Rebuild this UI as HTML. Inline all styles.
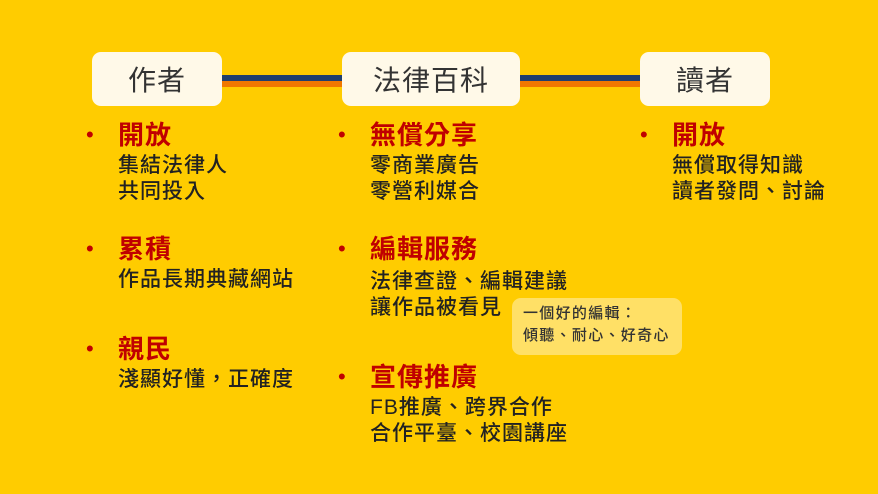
<!DOCTYPE html>
<html><head><meta charset="utf-8"><style>
body{margin:0;width:878px;height:494px;background:#FFCC00;position:relative;overflow:hidden;font-family:"Liberation Sans","Noto Sans CJK TC",sans-serif}
.box{position:absolute;top:52px;height:54px;background:#FFF9E8;border-radius:9px;font-size:28px;letter-spacing:1px;color:#333;display:flex;align-items:center;justify-content:center}
.ln{position:absolute;height:6px}
.t{position:absolute;white-space:nowrap}
.h{font-size:26px;letter-spacing:1px;font-weight:bold;color:#C00000;line-height:30px}
.b{font-size:21px;letter-spacing:1px;color:#222;line-height:26px;font-weight:500}
.d{position:absolute;font-size:22px;color:#C00000;line-height:30px}
</style></head><body>
<div class="ln" style="left:222px;width:120px;top:75px;background:#1F3F6E"></div>
<div class="ln" style="left:222px;width:120px;top:81px;background:#F07800"></div>
<div class="ln" style="left:520px;width:120px;top:75px;background:#1F3F6E"></div>
<div class="ln" style="left:520px;width:120px;top:81px;background:#F07800"></div>
<div class="box" style="left:92px;width:130px">作者</div>
<div class="box" style="left:342px;width:178px">法律百科</div>
<div class="box" style="left:640px;width:130px">讀者</div>

<div class="d" style="left:86px;top:120px">•</div>
<div class="t h" style="left:118px;top:120px">開放</div>
<div class="t b" style="left:118px;top:153px">集結法律人<br>共同投入</div>
<div class="d" style="left:86px;top:234px">•</div>
<div class="t h" style="left:118px;top:234px">累積</div>
<div class="t b" style="left:118px;top:267px">作品長期典藏網站</div>
<div class="d" style="left:86px;top:334px">•</div>
<div class="t h" style="left:118px;top:334px">親民</div>
<div class="t b" style="left:118px;top:367px">淺顯好懂，正確度</div>

<div class="d" style="left:338px;top:120px">•</div>
<div class="t h" style="left:370px;top:120px">無償分享</div>
<div class="t b" style="left:370px;top:153px">零商業廣告<br>零營利媒合</div>
<div class="d" style="left:338px;top:234px">•</div>
<div class="t h" style="left:370px;top:234px">編輯服務</div>
<div class="t b" style="left:370px;top:269px">法律查證、編輯建議<br>讓作品被看見</div>
<div class="d" style="left:338px;top:362px">•</div>
<div class="t h" style="left:370px;top:362px">宣傳推廣</div>
<div class="t b" style="left:370px;top:395px">FB推廣、跨界合作<br>合作平臺、校園講座</div>

<div class="d" style="left:640px;top:120px">•</div>
<div class="t h" style="left:672px;top:120px">開放</div>
<div class="t b" style="left:672px;top:153px">無償取得知識<br>讀者發問、討論</div>

<div style="position:absolute;left:512px;top:298px;width:170px;height:57px;background:#FFE066;border-radius:9px"></div>
<div class="t" style="left:523px;top:303px;font-size:15px;letter-spacing:1.3px;line-height:22px;color:#333;font-weight:500">一個好的編輯：<br>傾聽、耐心、好奇心</div>
</body></html>
